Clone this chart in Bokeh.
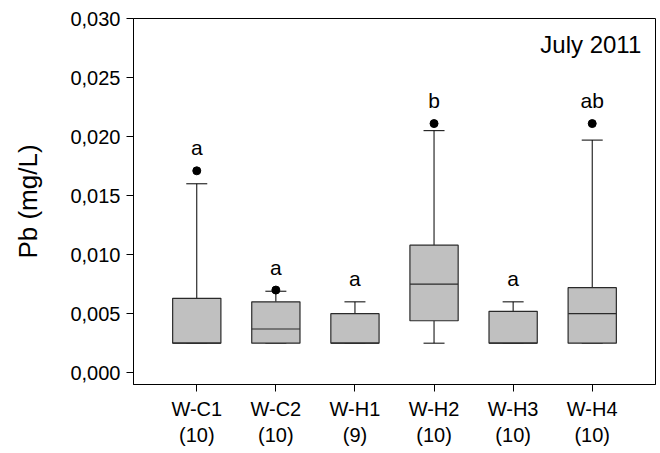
from bokeh.plotting import figure
from bokeh.models import FixedTicker, Label, ColumnDataSource, Range1d
from bokeh.core.properties import value
from bokeh.embed import file_html
from bokeh.resources import INLINE

# ---- data ----
sites = ["W-C1", "W-C2", "W-H1", "W-H2", "W-H3", "W-H4"]
n_obs = [10, 10, 9, 10, 10, 10]
q1 = [0.0025, 0.0025, 0.0025, 0.0044, 0.0025, 0.0025]
median = [0.0025, 0.0037, 0.0025, 0.0075, 0.0025, 0.0050]
q3 = [0.0063, 0.0060, 0.0050, 0.0108, 0.0052, 0.0072]
whisk_lo = [0.0025, 0.0025, 0.0025, 0.0025, 0.0025, 0.0025]
whisk_hi = [0.0160, 0.0069, 0.0060, 0.0205, 0.0060, 0.0197]
outlier = [0.0171, 0.0070, None, 0.0211, None, 0.0211]
letters = ["a", "a", "a", "b", "a", "ab"]
y_ticks = [0.000, 0.005, 0.010, 0.015, 0.020, 0.025, 0.030]
title_text = "July 2011"

FONT = "Liberation Sans"
pos = list(range(1, len(sites) + 1))

p = figure(width=658, height=448, output_backend="svg", toolbar_location=None,
           x_range=Range1d(0.2, 6.8), y_range=Range1d(-0.001, 0.030),
           min_border_left=133, min_border_right=3, min_border_top=18,
           min_border_bottom=60)
p.background_fill_color = "white"
p.border_fill_color = "white"
p.outline_line_color = "black"
p.outline_line_width = 1
p.xgrid.visible = False
p.ygrid.visible = False

src = ColumnDataSource(dict(x=pos, q1=q1, med=median, q3=q3, lo=whisk_lo, hi=whisk_hi))

# whiskers
p.segment(x0="x", y0="q3", x1="x", y1="hi", source=src, line_color="black", line_width=1)
p.segment(x0="x", y0="lo", x1="x", y1="q1", source=src, line_color="black", line_width=1)
p.scatter(x="x", y="hi", source=src, marker="dash", size=21, line_color="black", line_width=1)
p.scatter(x="x", y="lo", source=src, marker="dash", size=21, line_color="black", line_width=1)

# boxes
p.vbar(x="x", bottom="q1", top="q3", width=0.61, source=src,
       fill_color="#c0c0c0", line_color="#2a2a2a", line_width=1.2)
p.scatter(x="x", y="med", source=src, marker="dash", size=48, line_color="#2a2a2a", line_width=1.2)

# outliers
ox = [x for x, o in zip(pos, outlier) if o is not None]
oy = [o for o in outlier if o is not None]
p.scatter(ox, oy, size=8, fill_color="black", line_color="black")

# significance letters
top_pts = [max(h, o) if o is not None else h for h, o in zip(whisk_hi, outlier)]
p.text(x=pos, y=top_pts, text=letters, text_align="center", text_baseline="middle",
       y_offset=-23, text_font=value(FONT), text_font_size="21px", text_color="black")

# title label
p.add_layout(Label(x=6.62, y=0.0278, text=title_text, text_align="right",
                   text_baseline="middle", text_font=FONT, text_font_size="24px",
                   text_color="black"))

# axes
p.yaxis.ticker = FixedTicker(ticks=y_ticks)
p.yaxis.major_label_overrides = {t: f"{t:.3f}".replace(".", ",") for t in y_ticks}
p.yaxis.axis_label = "Pb (mg/L)"
p.yaxis.axis_label_text_font = FONT
p.yaxis.axis_label_text_font_size = "26px"
p.yaxis.axis_label_text_font_style = "normal"
p.yaxis.axis_label_text_color = "black"
p.yaxis.axis_label_standoff = 24

p.xaxis.ticker = FixedTicker(ticks=pos)
p.xaxis.major_label_overrides = {x: f"{s}\n({n})" for x, s, n in zip(pos, sites, n_obs)}

for ax in (p.xaxis, p.yaxis):
    ax.major_label_text_font = FONT
    ax.major_label_text_font_size = "20px"
    ax.major_label_text_color = "black"
    ax.major_tick_out = 7
    ax.major_tick_in = 0
    ax.minor_tick_out = 0
    ax.minor_tick_in = 0
    ax.axis_line_color = "black"
    ax.major_tick_line_color = "black"
    ax.major_label_standoff = 6

open("out.html", "w").write(file_html(p, INLINE))
